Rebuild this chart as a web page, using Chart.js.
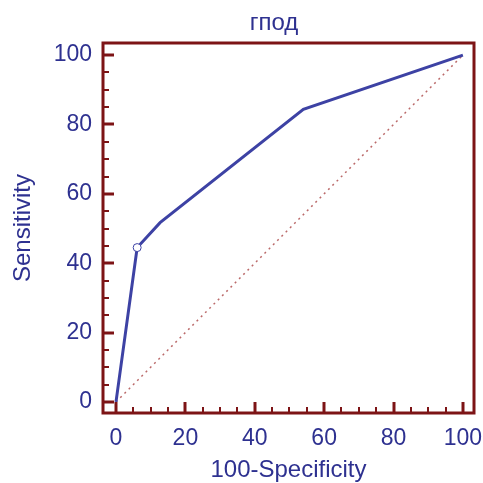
<!DOCTYPE html>
<html>
<head>
<meta charset="utf-8">
<script src="https://cdn.jsdelivr.net/npm/chart.js@4"></script>
<style>
  html, body { margin: 0; padding: 0; background: #ffffff; overflow: hidden; }
  #wrap { width: 483px; height: 483px; }
</style>
</head>
<body>
<div id="wrap"><canvas id="roc"></canvas></div>
<script>
// ROC curve points (100-Specificity, Sensitivity)
var fprValues = [0, 6.1, 12.7, 54, 100];
var tprValues = [0, 44.5, 51.7, 84.4, 100];
// reference diagonal
var diagX = [0, 100];
var diagY = [0, 100];
var tickValues = [0, 20, 40, 60, 80, 100];
var minorTickValues = [0, 5, 10, 15, 20, 25, 30, 35, 40, 45, 50, 55, 60, 65, 70, 75, 80, 85, 90, 95, 100];
var chartTitle = 'гпод';
var xTitle = '100-Specificity';
var yTitle = 'Sensitivity';

var frameColor = '#7d1416';
var textColor = '#2e3190';
var lineColor = '#3d42a4';
var fontFamily = '"Liberation Sans", Arial, sans-serif';

var rocPoints = fprValues.map(function (x, i) { return { x: x, y: tprValues[i] }; });
var diagPoints = diagX.map(function (x, i) { return { x: x, y: diagY[i] }; });

// Frame, inward tick marks and the title
var framePlugin = {
    id: 'frame',
    afterDraw: function (chart) {
        var ctx = chart.ctx;
        var a = chart.chartArea;
        var xs = chart.scales.x, ys = chart.scales.y;
        ctx.save();
        ctx.strokeStyle = frameColor;
        ctx.lineWidth = 3;
        ctx.strokeRect(a.left, a.top, a.right - a.left, a.bottom - a.top);
        minorTickValues.forEach(function (v) {
            var major = v % 20 === 0;
            var len = major ? 11 : 6;
            ctx.lineWidth = major ? 3 : 2;
            var px = Math.round(xs.getPixelForValue(v));
            ctx.beginPath();
            ctx.moveTo(px, a.bottom);
            ctx.lineTo(px, a.bottom - len);
            ctx.stroke();
            var py = Math.round(ys.getPixelForValue(v));
            ctx.beginPath();
            ctx.moveTo(a.left, py);
            ctx.lineTo(a.left + len, py);
            ctx.stroke();
        });
        ctx.fillStyle = textColor;
        ctx.font = '24px ' + fontFamily;
        ctx.textAlign = 'center';
        ctx.textBaseline = 'middle';
        ctx.fillText(chartTitle, 274, 23);
        ctx.restore();
    }
};

function fixTicks(scale) {
    scale.ticks = tickValues.map(function (v) { return { value: v }; });
}

var ctx = document.getElementById('roc').getContext('2d');
var rocChart = new Chart(ctx, {
    type: 'scatter',
    data: {
        datasets: [{
            label: 'ROC',
            data: rocPoints,
            showLine: true,
            borderColor: lineColor,
            borderWidth: 3,
            pointRadius: [0, 4, 0, 0, 0],
            pointBackgroundColor: '#ffffff',
            pointBorderColor: lineColor,
            pointBorderWidth: 1,
            order: 1
        }, {
            label: 'Diagonal',
            data: diagPoints,
            showLine: true,
            borderColor: '#bb6a6a',
            borderWidth: 1.5,
            borderDash: [2, 4],
            pointRadius: 0,
            order: 2
        }]
    },
    options: {
        responsive: true,
        maintainAspectRatio: false,
        animation: false,
        layout: { padding: { top: 43, right: 9, left: 0, bottom: 0 } },
        plugins: {
            legend: { display: false },
            title: { display: false },
            tooltip: { enabled: false }
        },
        scales: {
            x: {
                type: 'linear',
                min: -3.75,
                max: 103.2,
                afterBuildTicks: fixTicks,
                afterFit: function (scale) {
                    scale.height = 70;
                    scale.paddingLeft = 0;
                    scale.paddingRight = 0;
                },
                grid: { display: false },
                border: { display: false },
                ticks: {
                    color: textColor,
                    padding: 4,
                    maxRotation: 0,
                    font: { family: fontFamily, size: 23 }
                },
                title: {
                    display: true,
                    text: xTitle,
                    color: textColor,
                    padding: { top: 0, bottom: -2 },
                    font: { family: fontFamily, size: 24 }
                }
            },
            y: {
                type: 'linear',
                min: -3.2,
                max: 103.5,
                afterBuildTicks: fixTicks,
                afterFit: function (scale) {
                    scale.width = 103;
                    scale.paddingTop = 0;
                    scale.paddingBottom = 0;
                },
                grid: { display: false },
                border: { display: false },
                ticks: {
                    color: textColor,
                    padding: 3,
                    font: { family: fontFamily, size: 23 }
                },
                title: {
                    display: true,
                    text: yTitle,
                    color: textColor,
                    padding: { top: 9, bottom: 0 },
                    font: { family: fontFamily, size: 24 }
                }
            }
        }
    },
    plugins: [framePlugin]
});
</script>
</body>
</html>
